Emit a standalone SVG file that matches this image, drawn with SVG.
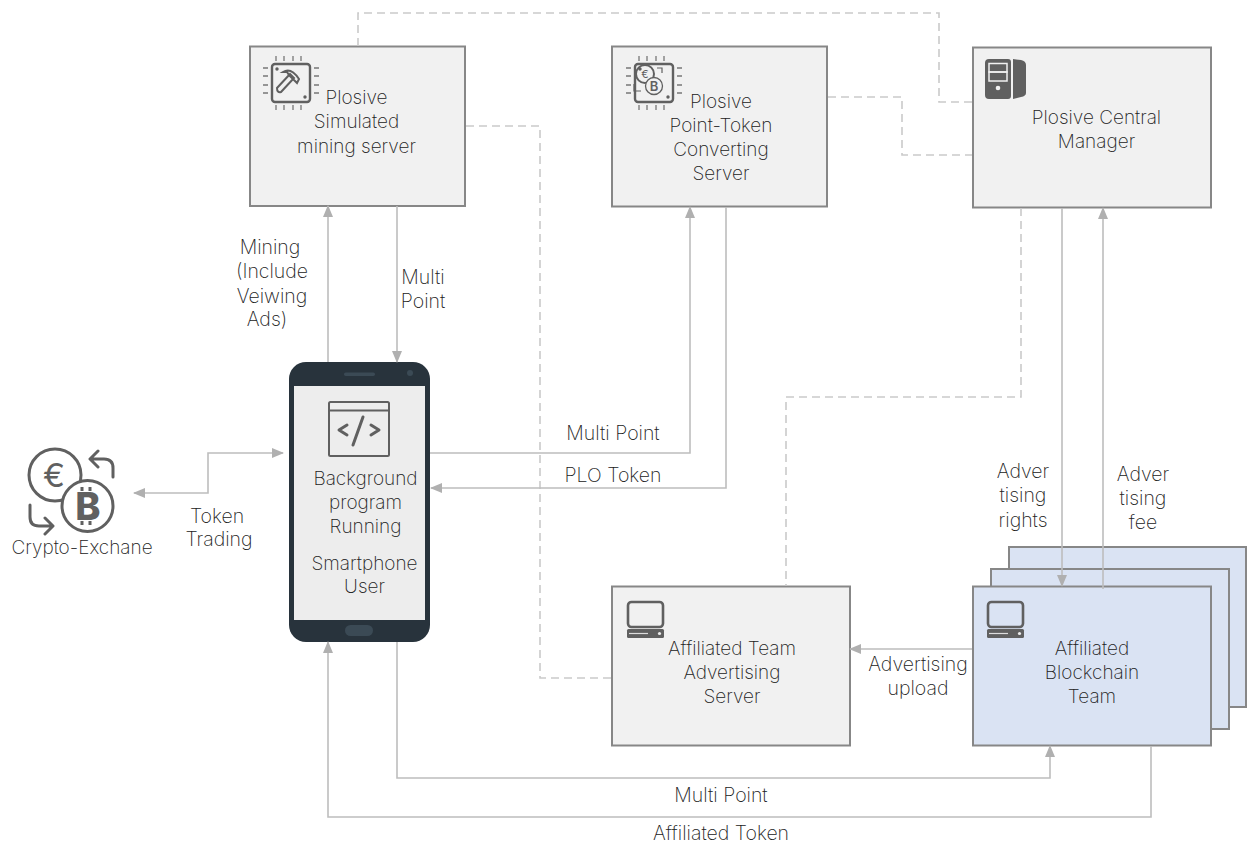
<svg xmlns="http://www.w3.org/2000/svg" width="1249" height="845" viewBox="0 0 1249 845">
<style>
text{font-family:"Inter","Liberation Sans",sans-serif;font-weight:200;font-size:19.5px;fill:#222;text-anchor:middle}
.n{font-size:19px}
.box{fill:#f1f1f1;stroke:#878787;stroke-width:2}
.blue{fill:#dae3f3;stroke:#878787;stroke-width:2}
.c{fill:none;stroke:#bdbdbd;stroke-width:1.6}
.d{fill:none;stroke:#cacaca;stroke-width:1.6;stroke-dasharray:8 5}
.ic{fill:none;stroke:#606060;stroke-width:2}
.ict{fill:none;stroke:#606060;stroke-width:3;stroke-linecap:round;stroke-linejoin:round}
.f{fill:#606060}
</style>
<defs>
<marker id="a" viewBox="0 0 12 10" refX="11" refY="5" markerWidth="12" markerHeight="10" markerUnits="userSpaceOnUse" orient="auto-start-reverse"><path d="M0 0L12 5L0 10Z" fill="#b0b0b0"/></marker>
<g id="pc"><rect x="1" y="1" width="35" height="25" rx="3.5" fill="none" stroke="#606060" stroke-width="2.6"/><rect x="0" y="28" width="37" height="9" rx="1.5" fill="#606060"/><path d="M2 32.500H21" stroke="#ddd" stroke-width="1.200"/><circle cx="32.500" cy="32.500" r="1.600" fill="#eee"/></g>
<g id="chip"><rect x="9" y="9" width="38" height="38" rx="3" fill="none" stroke="#606060" stroke-width="2.400"/><path d="M13 1v5M21 1v5M30 1v5M38 1v5M13 50v5M21 50v5M30 50v5M38 50v5M0 13h5M0 21h5M0 30h5M0 38h5M51 13h5M51 21h5M51 30h5M51 38h5" stroke="#777" stroke-width="1.300" fill="none"/><circle cx="14" cy="14" r="1.700" fill="#606060"/><circle cx="42" cy="42" r="1.700" fill="#606060"/></g>
</defs>
<g id="mining-server">
<rect class="box" x="250" y="46.500" width="215" height="159.500"/>
<use href="#chip" x="263" y="55"/>
<path class="ic" stroke-width="1.300" d="M277 88L290 74L294 78L281 92Q277 93 277 88ZM283 72Q291 67 299 79L297 83L289 75L287 72Z"/>
<text class="n" x="356.500" y="104">Plosive</text><text class="n" x="356.500" y="128">Simulated</text><text class="n" x="356.500" y="153">mining server</text>
</g>
<g id="converting-server">
<rect class="box" x="612" y="46.500" width="215" height="160"/>
<use href="#chip" x="626" y="55"/>
<circle cx="645" cy="74" r="9" class="ic" stroke-width="1.300"/><circle cx="654" cy="86" r="8.500" fill="#f1f1f1" stroke="#606060" stroke-width="1.300"/>
<text x="645" y="78" style="font-size:11px;font-weight:400;fill:#606060">€</text><text x="654" y="91" style="font-size:13px;font-weight:600;fill:#606060">B</text>
<path d="M662 73V68H657M634 84V91H641" fill="none" stroke="#606060" stroke-width="1.200"/>
<text class="n" x="721" y="108">Plosive</text><text class="n" x="721" y="132">Point-Token</text><text class="n" x="721" y="156">Converting</text><text class="n" x="721" y="180">Server</text>
</g>
<g id="central-manager">
<rect class="box" x="973" y="47.500" width="238" height="160"/>
<path class="f" d="M989 59H1008Q1011 59 1011 62V96Q1011 99 1008 99H989Q985 99 985 95V63Q985 59 989 59ZM1013 59L1021 60Q1026 61 1026 65V93Q1026 96 1021 97L1013 99Z"/>
<rect x="989" y="63.500" width="18" height="8.500" fill="none" stroke="#f1f1f1" stroke-width="1.500"/><rect x="989" y="72" width="18" height="9" fill="none" stroke="#f1f1f1" stroke-width="1.500"/>
<circle cx="998" cy="88" r="2.300" fill="#f1f1f1"/>
<text class="n" x="1096.500" y="124">Plosive Central</text><text class="n" x="1096.500" y="148">Manager</text>
</g>
<g id="smartphone">
<rect x="289" y="362" width="141" height="280" rx="17" fill="#28333c"/>
<rect x="294" y="386" width="131" height="234" fill="#ededed"/>
<rect x="344" y="372.500" width="31" height="3.500" rx="1.700" fill="#3b4a55"/>
<circle cx="410" cy="373" r="3" fill="#3b4a55"/>
<rect x="345" y="625" width="28" height="11" rx="5.500" fill="#3b4a55"/>
<rect x="329" y="402" width="60" height="54" rx="1.500" class="ic" stroke-width="2.500"/><path d="M329 410.500H389" class="ic"/>
<path class="ict" d="M347 425L339 430L347 435M371 425L379 430L371 435M363 417L353 445" stroke-width="2.500"/>
<text class="n" x="365.500" y="485">Background</text><text class="n" x="365.500" y="509">program</text><text class="n" x="365.500" y="533">Running</text><text class="n" x="364.500" y="570">Smartphone</text><text class="n" x="364.500" y="593">User</text>
</g>
<g id="crypto-exchange">
<circle cx="55" cy="475" r="26" fill="none" stroke="#606060" stroke-width="3"/>
<circle cx="87.500" cy="506" r="25.500" fill="#fff" stroke="#606060" stroke-width="3"/>
<text x="54" y="487" style="font-size:33px;font-weight:400;fill:#606060">€</text>
<text x="88" y="520" style="font-size:38px;font-weight:800;fill:#606060">B</text>
<path d="M82 487v4M90 487v4M82 521v4M90 521v4" stroke="#606060" stroke-width="3" fill="none"/>
<path class="ict" d="M113 477V468Q113 459 104 459H91M98 451L90 459L98 467M30 505V517Q30 526 39 526H52M45 518L53 526L45 534"/>
<text class="n" x="82" y="554">Crypto-Exchane</text>
</g>
<g id="advertising-server">
<rect class="box" x="612" y="586.500" width="238" height="159"/>
<use href="#pc" x="627" y="601"/>
<text class="n" x="732" y="655">Affiliated Team</text><text class="n" x="732" y="679">Advertising</text><text class="n" x="732" y="703">Server</text>
</g>
<g id="blockchain-team">
<rect class="blue" x="1009" y="547" width="237" height="160"/>
<rect class="blue" x="991" y="569" width="238" height="160"/>
<rect class="blue" x="973" y="586.500" width="238" height="159"/>
<use href="#pc" x="987" y="601"/>
<text class="n" x="1092" y="655">Affiliated</text><text class="n" x="1092" y="679">Blockchain</text><text class="n" x="1092" y="703">Team</text>
</g>
<g id="connectors">
<path class="d" d="M358 46V13H939V102H972"/>
<path class="d" d="M828 97H902V155H972"/>
<path class="d" d="M466 126H540V678H612"/>
<path class="d" d="M1021 208V397H786V586"/>
<path class="c" marker-end="url(#a)" d="M328 362V206"/>
<path class="c" marker-end="url(#a)" d="M397 206V362"/>
<path class="c" marker-end="url(#a)" d="M430 453H690V207"/>
<path class="c" marker-end="url(#a)" d="M726 207V488H431"/>
<path class="c" marker-start="url(#a)" marker-end="url(#a)" d="M134 493H208V453H283"/>
<path class="c" marker-end="url(#a)" d="M1062 208V586"/>
<path class="c" marker-end="url(#a)" d="M1103 589V208"/>
<path class="c" marker-end="url(#a)" d="M972 649H850"/>
<path class="c" marker-end="url(#a)" d="M397 642V778H1050V746"/>
<path class="c" marker-end="url(#a)" d="M1151 746V817H328V642"/>
</g>
<g id="labels">
<text x="270" y="254">Mining</text><text x="272" y="278">(Include</text><text x="272" y="303">Veiwing</text><text x="267" y="326">Ads)</text>
<text x="423" y="284">Multi</text><text x="423" y="308">Point</text>
<text x="613" y="440">Multi Point</text><text x="613" y="482">PLO Token</text>
<text x="217" y="523">Token</text><text x="219" y="546">Trading</text>
<text x="1023" y="478">Adver</text><text x="1023" y="502">tising</text><text x="1023" y="527">rights</text>
<text x="1143" y="481">Adver</text><text x="1143" y="505">tising</text><text x="1143" y="529">fee</text>
<text x="918" y="671">Advertising</text><text x="918" y="695">upload</text>
<text x="721" y="802">Multi Point</text><text x="721" y="840">Affiliated Token</text>
</g>
</svg>
